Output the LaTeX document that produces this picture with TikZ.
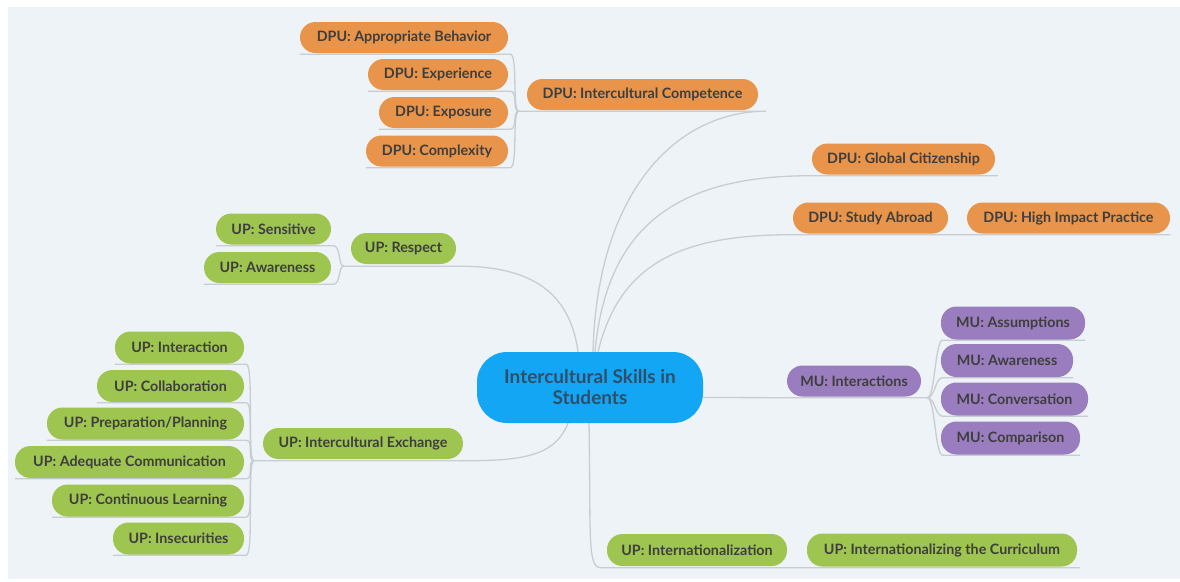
\documentclass[tikz,border=0pt]{standalone}
\usepackage{fontspec}
\setmainfont{Lato}
\usetikzlibrary{calc}
\pgfdeclarelayer{background}
\pgfsetlayers{background,main}
\definecolor{bgc}{HTML}{EEF3F7}
\definecolor{orng}{HTML}{E8944A}
\definecolor{grn}{HTML}{9EC54F}
\definecolor{prpl}{HTML}{9A7DBE}
\definecolor{blu}{HTML}{12A6F4}
\definecolor{linec}{HTML}{C8CDD2}
\definecolor{txt}{HTML}{3E3E3E}
\definecolor{ctxt}{HTML}{2F4F68}
\tikzset{
  pill/.style={rounded corners=15.5pt, minimum height=31pt, inner sep=0pt,
    text=txt, font=\bfseries\fontsize{14.3}{16}\selectfont},
  dpu/.style={pill, fill=orng},
  upn/.style={pill, fill=grn},
  mun/.style={pill, fill=prpl},
  root/.style={rounded corners=30pt, fill=blu, minimum width=226pt, minimum height=71pt,
    inner sep=0pt, align=center, text=ctxt, font=\bfseries\fontsize{19}{21}\selectfont},
  conn/.style={draw=linec, line width=1.3pt}
}
% underline along the bottom of a topic
\newcommand{\ul}[1]{($(#1.south west)+(0,1)$)}
\newcommand{\ur}[1]{($(#1.south east)+(0,1)$)}
\begin{document}
\begin{tikzpicture}[x=1pt,y=-1pt]
\useasboundingbox (0,0) rectangle (1180,581);

% central topic
\node[root] (c) at (590,387.5) {Intercultural Skills in\\Students};

% DPU branch: intercultural competence
\node[dpu, minimum width=231pt] (icomp) at (642.5,94.5) {DPU: Intercultural Competence};
\node[dpu, minimum width=208pt] (ab) at (404,37.5) {DPU: Appropriate Behavior};
\node[dpu, minimum width=140pt] (ex) at (438,74.5) {DPU: Experience};
\node[dpu, minimum width=129pt] (xp) at (443.5,112.5) {DPU: Exposure};
\node[dpu, minimum width=142pt] (cx) at (437,151) {DPU: Complexity};
\node[dpu, minimum width=183pt] (gc) at (903.5,159) {DPU: Global Citizenship};
\node[dpu, minimum width=155pt] (sa) at (870.5,218) {DPU: Study Abroad};
\node[dpu, minimum width=203pt] (hip) at (1068.5,218) {DPU: High Impact Practice};

% UP branches
\node[upn, minimum width=105pt] (resp) at (403.5,248.5) {UP: Respect};
\node[upn, minimum width=115pt] (sens) at (273.5,229) {UP: Sensitive};
\node[upn, minimum width=127pt] (awr) at (267.5,267.5) {UP: Awareness};
\node[upn, minimum width=200pt] (iex) at (363,443.5) {UP: Intercultural Exchange};
\node[upn, minimum width=129pt, minimum height=32pt] (inter) at (179.5,347.5) {UP: Interaction};
\node[upn, minimum width=147pt, minimum height=32pt] (coll) at (170.5,386) {UP: Collaboration};
\node[upn, minimum width=197pt, minimum height=32pt] (prep) at (145.5,423.5) {UP: Preparation/Planning};
\node[upn, minimum width=229pt, minimum height=32pt] (adeq) at (129.5,462) {UP: Adequate Communication};
\node[upn, minimum width=192pt, minimum height=32pt] (cont) at (148,500.5) {UP: Continuous Learning};
\node[upn, minimum width=131pt, minimum height=32pt] (insec) at (178.5,538.5) {UP: Insecurities};
\node[upn, minimum width=180pt, minimum height=32pt] (intl) at (697,550) {UP: Internationalization};
\node[upn, minimum width=270pt, minimum height=33pt] (curr) at (942,550) {UP: Internationalizing the Curriculum};

% MU branch
\node[mun, minimum width=134pt] (mint) at (854,381) {MU: Interactions};
\node[mun, minimum width=144pt, minimum height=33pt] (assum) at (1013,323) {MU: Assumptions};
\node[mun, minimum width=132pt, minimum height=33pt] (mawr) at (1007,360.5) {MU: Awareness};
\node[mun, minimum width=147pt, minimum height=33pt] (conv) at (1014.5,399) {MU: Conversation};
\node[mun, minimum width=139pt, minimum height=33pt] (comp) at (1010.5,438) {MU: Comparison};

\begin{pgfonlayer}{background}
\fill[white] (0,0) rectangle (1180,581);
\fill[bgc] (8,7) rectangle (1180,579);

% central topic -> intercultural competence, then its subtopics
\draw[conn] ($(c.north)+(3,0)$) .. controls +(4,-160) and +(-90,0) .. ($(icomp.south east)+(8,1)$)
  -- \ul{icomp} -- ++(-8,0) coordinate (b1);
\foreach \n in {ab,ex,xp,cx}
  \draw[conn] (b1) .. controls +(-7,0) and +(8,0) .. ($(\n.south east)+(2,1)$) -- \ul{\n};

% central topic -> global citizenship
\draw[conn] ($(c.north)+(5,0)$) .. controls +(12,-130) and +(-130,0) .. \ul{gc} -- ($(gc.south east)+(3,1)$);
% central topic -> study abroad -> high impact practice
\draw[conn] ($(c.north)+(8,0)$) .. controls +(22,-90) and +(-110,0) .. \ul{sa} -- \ur{hip};

% central topic -> respect, then its subtopics
\draw[conn] ($(c.north)+(-12,0)$) .. controls +(-8,-60) and +(70,0) .. ($(resp.south east)+(4,2)$)
  -- ($(resp.south west)+(0,2)$) -- ++(-7,0) coordinate (b2);
\foreach \n in {sens,awr}
  \draw[conn] (b2) .. controls +(-6,0) and +(8,0) .. ($(\n.south east)+(2,1)$) -- \ul{\n};

% central topic -> interactions, then its subtopics
\draw[conn] ($(c.east)+(0,10)$) -- \ul{mint} -- ($(mint.south east)+(6,1)$) coordinate (b3);
\foreach \n in {assum,mawr,conv,comp}
  \draw[conn] (b3) .. controls +(8,0) and +(-8,0) .. ($(\n.south west)+(2,0.5)$) -- ($(\n.south east)+(0,0.5)$);

% central topic -> intercultural exchange, then its subtopics
\draw[conn] ($(c.south)+(-22,0)$) .. controls +(-12,30) and +(60,0) .. ($(iex.south east)+(6,1.5)$)
  -- ($(iex.south west)+(0,1.5)$) -- ++(-9,0) coordinate (b4);
\foreach \n in {inter,coll,prep,adeq,cont,insec}
  \draw[conn] (b4) .. controls +(-7,0) and +(8,0) .. ($(\n.south east)+(2,0.5)$) -- ($(\n.south west)+(0,0.5)$);

% central topic -> internationalization -> curriculum
\draw[conn] ($(c.south)+(-1,0)$) .. controls +(2,110) and +(-14,0) .. ($(intl.south west)+(-6,1.5)$)
  -- ($(curr.south east)+(3,1)$);
\end{pgfonlayer}
\end{tikzpicture}
\end{document}
